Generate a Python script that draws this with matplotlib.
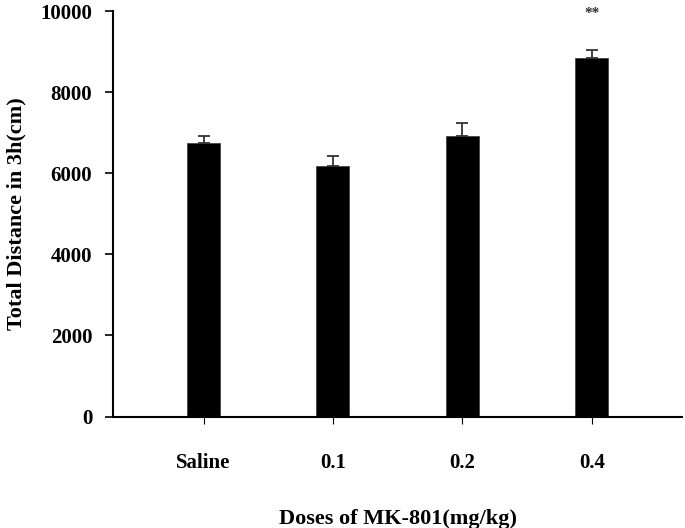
import matplotlib
matplotlib.use("Agg")
import matplotlib.pyplot as plt

# data
doses = ["Saline", "0.1", "0.2", "0.4"]
distance = [6750, 6170, 6930, 8850]
sem = [175, 260, 320, 180]
marks = ["", "", "", "**"]

plt.rcParams['font.family'] = ['Liberation Serif', 'DejaVu Serif']
plt.rcParams['font.weight'] = 'bold'

fig = plt.figure(figsize=(6.85, 5.28), dpi=100)
ax = fig.add_axes([0.165, 0.211, 0.831, 0.768])

x = range(len(doses))
ax.bar(x, distance, width=0.255, color="black", edgecolor="#444444", linewidth=0.6,
       yerr=[[0] * len(sem), sem], error_kw=dict(ecolor="#333333", elinewidth=1.3,
                                                  capsize=4.5, capthick=1.3))

for i, m in enumerate(marks):
    if m:
        ax.text(i, distance[i] + sem[i] + 900, m, ha="center", va="center",
                fontsize=11, color="#333333")

ax.set_xlim(-0.7, 3.7)
ax.set_ylim(0, 10000)
ax.set_yticks([0, 2000, 4000, 6000, 8000, 10000])
ax.set_xticks(list(x))
ax.set_xticklabels(doses)
ax.tick_params(axis="y", direction="out", length=6, width=1.2, labelsize=15, pad=9)
ax.tick_params(axis="x", direction="out", length=5, width=0.8, labelsize=15, pad=21)

for s in ["top", "right"]:
    ax.spines[s].set_visible(False)
ax.spines["left"].set_linewidth(1.5)
ax.spines["bottom"].set_linewidth(1.5)

ax.set_ylabel("Total Distance in 3h(cm)", fontsize=16, fontweight="bold", labelpad=10)
ax.set_xlabel("Doses of MK-801(mg/kg)", fontsize=16, fontweight="bold", labelpad=26)

fig.savefig("out.png", dpi=100)
